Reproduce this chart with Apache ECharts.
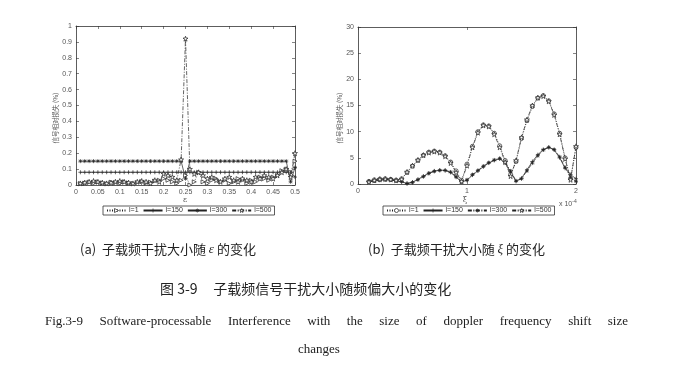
<!DOCTYPE html>
<html><head><meta charset="utf-8">
<script src="https://cdn.jsdelivr.net/npm/echarts@6/dist/echarts.min.js"></script>
<style>html,body{margin:0;padding:0;background:#fff}#c{width:673px;height:374px}</style>
</head><body><div id="c"></div>
<script>
// ---------- data: left panel (epsilon) ----------
var epsilon = [0.01,0.02,0.03,0.04,0.05,0.06,0.07,0.08,0.09,0.10,0.11,0.12,0.13,0.14,0.15,0.16,0.17,0.18,0.19,0.20,0.21,0.22,0.23,0.24,0.25,0.26,0.27,0.28,0.29,0.30,0.31,0.32,0.33,0.34,0.35,0.36,0.37,0.38,0.39,0.40,0.41,0.42,0.43,0.44,0.45,0.46,0.47,0.48,0.49,0.50];
var leftL1   = [0.010,0.012,0.018,0.010,0.020,0.012,0.008,0.018,0.015,0.010,0.020,0.012,0.010,0.015,0.022,0.012,0.018,0.025,0.030,0.040,0.030,0.020,0.010,0.030,0.060,0.000,0.020,0.080,0.020,0.010,0.030,0.040,0.020,0.030,0.010,0.020,0.040,0.030,0.010,0.030,0.020,0.050,0.040,0.030,0.050,0.060,0.090,0.100,0.080,0.150];
var leftL150 = [0.08,0.08,0.08,0.08,0.08,0.08,0.08,0.08,0.08,0.08,0.08,0.08,0.08,0.08,0.08,0.08,0.08,0.08,0.08,0.08,0.08,0.08,0.08,0.08,0.08,0.08,0.08,0.08,0.08,0.08,0.08,0.08,0.08,0.08,0.08,0.08,0.08,0.08,0.08,0.08,0.08,0.08,0.08,0.08,0.08,0.08,0.08,0.08,0.08,0.05];
var leftL300 = [0.15,0.15,0.15,0.15,0.15,0.15,0.15,0.15,0.15,0.15,0.15,0.15,0.15,0.15,0.15,0.15,0.15,0.15,0.15,0.15,0.15,0.15,0.15,0.15,0.04,0.15,0.15,0.15,0.15,0.15,0.15,0.15,0.15,0.15,0.15,0.15,0.15,0.15,0.15,0.15,0.15,0.15,0.15,0.15,0.15,0.15,0.15,0.15,0.02,0.11];
var leftL500 = [0.010,0.015,0.020,0.025,0.020,0.015,0.010,0.015,0.020,0.025,0.020,0.015,0.010,0.020,0.025,0.020,0.010,0.030,0.020,0.070,0.060,0.050,0.030,0.160,0.920,0.100,0.070,0.080,0.060,0.040,0.050,0.030,0.020,0.040,0.050,0.030,0.020,0.040,0.030,0.020,0.050,0.040,0.060,0.050,0.040,0.060,0.080,0.100,0.050,0.200];

// ---------- data: right panel (xi, x 10^-4) ----------
var xi = [0.10,0.15,0.20,0.25,0.30,0.35,0.40,0.45,0.50,0.55,0.60,0.65,0.70,0.75,0.80,0.85,0.90,0.95,1.00,1.05,1.10,1.15,1.20,1.25,1.30,1.35,1.40,1.45,1.50,1.55,1.60,1.65,1.70,1.75,1.80,1.85,1.90,1.95,2.00];
var rightL1   = [0.5,0.8,0.95,1.0,0.9,0.75,1.0,2.2,3.4,4.5,5.5,6.1,6.3,6.1,5.4,4.2,2.5,0.7,3.8,7.2,10.0,11.3,11.1,9.7,7.3,4.5,1.8,4.3,8.7,12.1,14.8,16.4,16.9,15.9,13.4,9.7,5.0,1.0,7.0];
var rightL150 = [0.4,0.6,0.7,0.8,0.75,0.6,0.4,0.1,0.35,0.9,1.5,2.1,2.5,2.65,2.6,2.2,1.3,0.4,0.7,1.7,2.5,3.3,4.0,4.5,4.8,4.0,2.3,0.5,1.1,2.7,4.3,5.6,6.6,7.0,6.5,5.0,3.0,1.8,1.0];
var rightL300 = [0.5,0.6,0.8,0.85,0.8,0.6,0.5,0.1,0.3,0.8,1.4,2.0,2.4,2.6,2.6,2.3,1.4,0.5,0.8,1.8,2.6,3.4,4.1,4.6,4.9,4.2,2.5,0.6,1.0,2.5,4.0,5.4,6.5,7.0,6.6,5.2,3.2,1.2,0.5];
var rightL500 = [0.4,0.7,0.9,0.95,0.85,0.7,0.9,2.3,3.5,4.6,5.5,6.0,6.2,6.0,5.3,4.0,2.2,0.5,3.5,7.0,9.8,11.2,11.0,9.5,7.0,4.2,1.5,4.5,8.9,12.3,15.0,16.5,16.8,15.8,13.2,9.5,4.8,0.8,7.2];

var seriesNames = ['l=1','l=150','l=300','l=500'];
var leftXTicks = ['0','0.05','0.1','0.15','0.2','0.25','0.3','0.35','0.4','0.45','0.5'];

function pairs(xs, ys){ return xs.map(function(x,i){ return [x, ys[i]]; }); }

var STAR = 'path://M50,2 L61,36 L97,36 L68,57 L79,92 L50,71 L21,92 L32,57 L3,36 L39,36 Z';
var PLUS = 'path://M0,5 L10,5 M5,0 L5,10';
var AST  = 'path://M5,0 L5,10 M0,5 L10,5 M1.5,1.5 L8.5,8.5 M8.5,1.5 L1.5,8.5';
var INK = '#222';

function mkSeries(name, data, gi, lt, sym, symSize, symRotate, filled){
  return {
    name:name, type:'line', xAxisIndex:gi*2, yAxisIndex:gi*2, data:data,
    symbol:sym, symbolSize:symSize, symbolRotate:symRotate||0, showSymbol:true,
    lineStyle:{color:INK, width:0.7, type:lt},
    itemStyle:{color: filled ? INK : '#fff', borderColor:INK, borderWidth:0.7},
    emphasis:{disabled:true}, animation:false, z:3
  };
}

var chart = echarts.init(document.getElementById('c'), null, {renderer:'canvas'});

function axisX(gi, min, max, interval, top, labels){
  return {
    type:'value', gridIndex:gi, min:min, max:max, interval:interval, position: top?'top':'bottom',
    axisLine:{show:true, onZero:false, lineStyle:{color:'#333', width:0.8}},
    axisTick:{show:true, inside:true, length:3, lineStyle:{color:'#333', width:0.6}},
    splitLine:{show:false},
    axisLabel:{show:!top, margin:4, fontSize:7, color:'#555', fontFamily:'Liberation Sans',
      formatter: labels ? function(v){ var k=Math.round((v-min)/interval); return labels[k]; } : function(v){ return String(v); }}
  };
}
function axisY(gi, min, max, interval, right){
  return {
    type:'value', gridIndex:gi, min:min, max:max, interval:interval, position: right?'right':'left',
    axisLine:{show:true, onZero:false, lineStyle:{color:'#333', width:0.8}},
    axisTick:{show:true, inside:true, length:3, lineStyle:{color:'#333', width:0.6}},
    splitLine:{show:false},
    axisLabel:{show:!right, margin:4, fontSize:7, color:'#555', fontFamily:'Liberation Sans'}
  };
}

function mkLegend(left, suffix){
  return {data:seriesNames.map(function(n){return {name:n+suffix};}), left:left, top:206, orient:'horizontal',
     itemWidth:19, itemHeight:5, itemGap:4, padding:[1,3], borderColor:'#333', borderWidth:0.8,
     itemStyle:{color:'#fff', borderColor:INK, borderWidth:0.7},
     textStyle:{fontSize:7, color:'#333', fontFamily:'Liberation Sans', padding:[0,0,0,-2]}, selectedMode:false,
     formatter:function(n){return n.trim();}};
}

var option = {
  backgroundColor:'#fff',
  animation:false,
  grid:[
    {left:76, top:26, width:219, height:159},
    {left:358, top:27, width:218, height:157}
  ],
  xAxis:[
    axisX(0, 0, 0.5, 0.05, false, leftXTicks),
    axisX(0, 0, 0.5, 0.05, true),
    axisX(1, 0, 2, 1, false),
    axisX(1, 0, 2, 1, true)
  ],
  yAxis:[
    axisY(0, 0, 1, 0.1, false),
    axisY(0, 0, 1, 0.1, true),
    axisY(1, 0, 30, 5, false),
    axisY(1, 0, 30, 5, true)
  ],
  legend:[ mkLegend(103, ''), mkLegend(383, ' ') ],
  series:[
    mkSeries('l=1',   pairs(epsilon,leftL1),   0, [1,1.5], 'triangle', 4, -90, false),
    mkSeries('l=150', pairs(epsilon,leftL150), 0, 'solid', PLUS, 4, 0, false),
    mkSeries('l=300', pairs(epsilon,leftL300), 0, 'solid', AST, 4, 0, true),
    mkSeries('l=500', pairs(epsilon,leftL500), 0, [4,1.5,1,1.5], STAR, 5, 0, false),
    mkSeries('l=1 ',   pairs(xi,rightL1),   1, [1,1.5], 'circle', 4, 0, false),
    mkSeries('l=150 ', pairs(xi,rightL150), 1, 'solid', PLUS, 4, 0, false),
    mkSeries('l=300 ', pairs(xi,rightL300), 1, [4,1.5,1,1.5], AST, 4, 0, true),
    mkSeries('l=500 ', pairs(xi,rightL500), 1, [4,1.5,1,1.5], STAR, 5, 0, false)
  ],
  graphic:[]
};

var g = option.graphic;
var yName = '信号相对损失 (%)';
// y-axis names (rotated)
g.push({type:'text', x:56, y:118, rotation:Math.PI/2, style:{text:yName, fontSize:6.5, fill:'#555', fontFamily:'Noto Sans CJK SC', align:'center', verticalAlign:'middle'}});
g.push({type:'text', x:340, y:118, rotation:Math.PI/2, style:{text:yName, fontSize:6.5, fill:'#555', fontFamily:'Noto Sans CJK SC', align:'center', verticalAlign:'middle'}});
// x-axis names
g.push({type:'text', x:185, y:200, style:{text:'ε', fontSize:8, fill:'#555', fontFamily:'DejaVu Serif', align:'center', verticalAlign:'middle'}});
g.push({type:'text', x:465, y:200, style:{text:'ξ', fontSize:8, fill:'#555', fontFamily:'DejaVu Serif', align:'center', verticalAlign:'middle'}});
g.push({type:'text', x:559, y:199, style:{text:'{a|x 10}{b|-4}', fill:'#555',
  rich:{a:{fontSize:7, fontFamily:'Liberation Sans', fill:'#555'}, b:{fontSize:5, fontFamily:'Liberation Sans', fill:'#555', verticalAlign:'top', padding:[0,0,5,0]}}}});

var cnFont = 'Noto Sans CJK SC';
g.push({type:'text', left:80, top:243, style:{text:'(a)  子载频干扰大小随 {i|ε} 的变化', fontSize:13, fill:'#222', fontFamily:cnFont,
  rich:{i:{fontSize:13, fontStyle:'italic', fontFamily:'Liberation Serif', fill:'#222'}}}});
g.push({type:'text', left:368, top:243, style:{text:'(b)  子载频干扰大小随 {i|ξ} 的变化', fontSize:13, fill:'#222', fontFamily:cnFont,
  rich:{i:{fontSize:13, fontStyle:'italic', fontFamily:'Liberation Serif', fill:'#222'}}}});
g.push({type:'text', left:160, top:282, style:{text:'图 3-9     子载频信号干扰大小随频偏大小的变化', fontSize:14, fill:'#222', fontFamily:cnFont}});

// justified English caption line
var words = ['Fig.3-9','Software-processable','Interference','with','the','size','of','doppler','frequency','shift','size'];
var cv = document.createElement('canvas').getContext('2d'); cv.font = '13px "Liberation Serif"';
var x0 = 45, x1 = 628;
var widths = words.map(function(w){ return cv.measureText(w).width; });
var total = widths.reduce(function(a,b){return a+b;},0);
var gap = (x1 - x0 - total) / (words.length - 1);
var cx = x0;
words.forEach(function(w,i){
  g.push({type:'text', left:cx, top:315, style:{text:w, fontSize:13, fill:'#222', fontFamily:'Liberation Serif'}});
  cx += widths[i] + gap;
});
g.push({type:'text', left:298, top:343, style:{text:'changes', fontSize:13, fill:'#222', fontFamily:'Liberation Serif'}});

chart.setOption(option);
</script></body></html>
